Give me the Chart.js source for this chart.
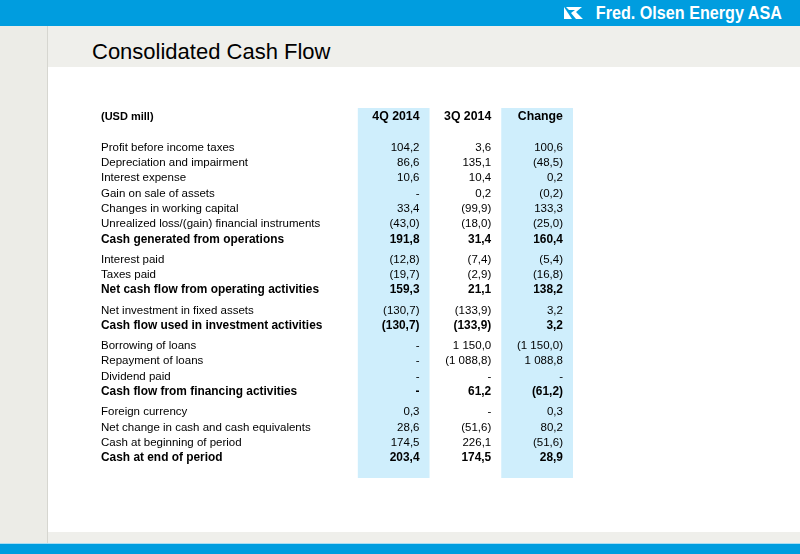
<!DOCTYPE html>
<html>
<head>
<meta charset="utf-8">
<title>Consolidated Cash Flow</title>
<script src="https://cdn.jsdelivr.net/npm/chart.js@4.4.1/dist/chart.umd.min.js"></script>
<style>
  body { margin: 0; width: 800px; height: 554px; position: relative; overflow: hidden; background: #fff; font-family: "Liberation Sans", Arial, sans-serif; }
  .band { position: absolute; }
  #topBand { left: 0; top: 0; width: 800px; height: 26px; background: #009ddf; }
  #leftStrip { left: 0; top: 26px; width: 47px; height: 517px; background: #ecece7; border-right: 1px solid #d6d6d0; }
  #titleBand { left: 48px; top: 26px; width: 752px; height: 41px; background: #efefeb; }
  #footBand { left: 48px; top: 532px; width: 752px; height: 11px; background: #efefeb; }
  #footLine { left: 0; top: 543px; width: 800px; height: 1px; background: #a9ddf3; }
  #footBlue { left: 0; top: 544px; width: 800px; height: 10px; background: #009ddf; }
  #title { position: absolute; left: 92px; top: 41px; font-size: 22px; line-height: 22px; color: #000; }
  #brand { position: absolute; right: 18px; top: 3px; font-weight: bold; font-size: 19px; line-height: 19px; color: #fff; white-space: nowrap; transform: scaleX(0.85); transform-origin: right center; }
  #brandMark { position: absolute; left: 564px; top: 7px; }
  #table { position: absolute; left: 101px; top: 108px; }
</style>
</head>
<body>
<div class="band" id="topBand"></div>
<div class="band" id="leftStrip"></div>
<div class="band" id="titleBand"></div>
<div class="band" id="footBand"></div>
<div class="band" id="footLine"></div>
<div class="band" id="footBlue"></div>
<svg id="brandMark" width="19" height="12" viewBox="0 0 19 12">
  <polygon points="0,0 8,12 0,12" fill="#fff"/>
  <polygon points="2,0 18,0 12,5 19,12 12,12 7,6 11,3 5,3" fill="#fff"/>
</svg>
<div id="brand">Fred. Olsen Energy ASA</div>
<div id="title">Consolidated Cash Flow</div>
<canvas id="table" width="472" height="370"></canvas>

<script>
const unitLabel = "(USD mill)";
const columnLabels = ["4Q 2014", "3Q 2014", "Change"];

const rowLabels = [
  "Profit before income taxes",
  "Depreciation and impairment",
  "Interest expense",
  "Gain on sale of assets",
  "Changes in working capital",
  "Unrealized loss/(gain) financial instruments",
  "Cash generated from operations",
  "Interest paid",
  "Taxes paid",
  "Net cash flow from operating activities",
  "Net investment in fixed assets",
  "Cash flow used in investment activities",
  "Borrowing of loans",
  "Repayment of loans",
  "Dividend paid",
  "Cash flow from financing activities",
  "Foreign currency",
  "Net change in cash and cash equivalents",
  "Cash at beginning of period",
  "Cash at end of period"
];

// null = "-"
const q4_2014 = [104.2, 86.6, 10.6, null, 33.4, -43.0, 191.8, -12.8, -19.7, 159.3,
  -130.7, -130.7, null, null, null, null, 0.3, 28.6, 174.5, 203.4];
const q3_2014 = [3.6, 135.1, 10.4, 0.2, -99.9, -18.0, 31.4, -7.4, -2.9, 21.1,
  -133.9, -133.9, 1150.0, -1088.8, null, 61.2, null, -51.6, 226.1, 174.5];
const change = [100.6, -48.5, 0.2, -0.2, 133.3, -25.0, 160.4, -5.4, -16.8, 138.2,
  3.2, 3.2, -1150.0, 1088.8, null, -61.2, 0.3, 80.2, -51.6, 28.9];

const totalRows = [
  "Cash generated from operations",
  "Net cash flow from operating activities",
  "Cash flow used in investment activities",
  "Cash flow from financing activities",
  "Cash at end of period"
];

const columns = [q4_2014, q3_2014, change];

function fmt(v) {
  if (v === null) return "-";
  const s = Math.abs(v).toFixed(1).replace(".", ",").replace(/\B(?=(\d{3})+(?!\d))/g, " ");
  return v < 0 ? "(" + s + ")" : s;
}

// row positions in line units, with a small gap after every subtotal
const rowLine = [];
let line = 2;
rowLabels.forEach(label => {
  rowLine.push(line);
  line += totalRows.includes(label) ? 1.33 : 1;
});

const tablePlugin = {
  id: "cashFlowTable",
  beforeDraw(chart) {
    const { ctx, scales: { x, y } } = chart;
    ctx.save();
    ctx.fillStyle = "#cfeefc";
    [0, 2].forEach(c => {
      const l = x.getPixelForValue(c);
      const r = x.getPixelForValue(c + 1);
      ctx.fillRect(l, y.top, r - l, y.bottom - y.top);
    });
    ctx.restore();
  },
  afterDraw(chart) {
    const { ctx, scales: { x, y } } = chart;
    const textRight = c => x.getPixelForValue(c + 1 - 0.14);
    ctx.save();
    ctx.fillStyle = "#000";
    ctx.textBaseline = "middle";

    ctx.font = "bold 11px 'Liberation Sans', Arial, sans-serif";
    ctx.textAlign = "left";
    ctx.fillText(unitLabel, x.getPixelForValue(x.min), y.getPixelForValue(0));
    ctx.font = "bold 12.3px 'Liberation Sans', Arial, sans-serif";
    ctx.textAlign = "right";
    columnLabels.forEach((lab, c) => ctx.fillText(lab, textRight(c), y.getPixelForValue(0)));

    rowLabels.forEach((label, i) => {
      const bold = totalRows.includes(label);
      ctx.font = bold ? "bold 11.9px 'Liberation Sans', Arial, sans-serif"
                      : "11.5px 'Liberation Sans', Arial, sans-serif";
      const py = y.getPixelForValue(rowLine[i]);
      ctx.textAlign = "left";
      ctx.fillText(label, x.getPixelForValue(x.min), py);
      ctx.textAlign = "right";
      columns.forEach((col, c) => ctx.fillText(fmt(col[i]), textRight(c), py));
    });
    ctx.restore();
  }
};

new Chart(document.getElementById("table"), {
  type: "scatter",
  data: { datasets: [] },
  options: {
    responsive: false,
    animation: false,
    layout: { padding: 0 },
    plugins: { legend: { display: false }, tooltip: { enabled: false } },
    scales: {
      x: { type: "linear", display: false, min: -3.58, max: 3 },
      y: { type: "linear", display: false, min: -0.59, max: 23.63, reverse: true }
    }
  },
  plugins: [tablePlugin]
});
</script>
</body>
</html>
